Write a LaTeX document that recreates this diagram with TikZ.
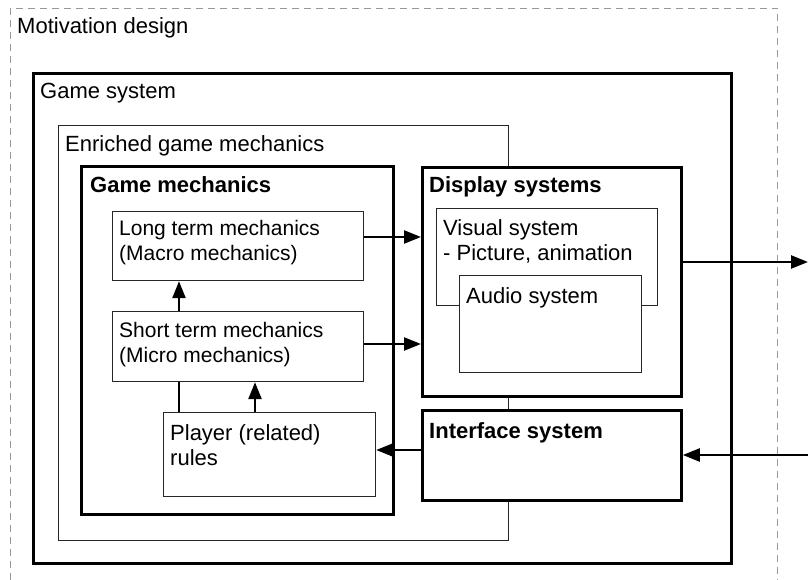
\documentclass[tikz,border=0pt]{standalone}
\usepackage{fontspec}
\setmainfont{Liberation Sans}
\usetikzlibrary{arrows.meta,calc}
\tikzset{
  px/.style={x=1pt,y=-1pt},
  thinbox/.style={draw=black!85,line width=1.2pt,fill=white,inner sep=0pt,anchor=north west},
  thickbox/.style={draw=black,line width=2.8pt,fill=white,inner sep=0pt,anchor=north west},
  lbl/.style={anchor=base west,inner sep=0pt,font=\fontsize{22}{26}\selectfont},
  slbl/.style={anchor=base west,inner sep=0pt,font=\fontsize{21}{25}\selectfont},
  blbl/.style={anchor=base west,inner sep=0pt,font=\fontsize{22}{26}\selectfont\bfseries},
  arr/.style={line width=2.4pt,-{Triangle[length=17pt,width=13pt]}},
  conn/.style={line width=2.4pt},
}
\begin{document}
\begin{tikzpicture}[px]
\useasboundingbox (0,0) rectangle (808,580);
% outer dashed frame
\node[draw=black!40,line width=1pt,dash pattern=on 7pt off 5pt,inner sep=0pt,anchor=north west,minimum width=767pt,minimum height=590pt] (md) at (10,8) {};
\node[lbl] (mdt) at (17,34) {Motivation design};
% game system
\node[thickbox,line width=3.2pt,minimum width=698pt,minimum height=490pt] (gs) at (32,72) {};
\node[lbl] (gst) at (40,99) {Game system};
% enriched
\node[thinbox,minimum width=450pt,minimum height=415pt] (eg) at (58,125) {};
\node[lbl] (egt) at (65,152) {Enriched game mechanics};
% game mechanics
\node[thickbox,minimum width=312pt,minimum height=348pt] (gm) at (80,165) {};
\node[blbl] (gmt) at (90,193) {Game mechanics};
% display systems
\node[thickbox,minimum width=259pt,minimum height=229pt] (ds) at (421,166) {};
\node[blbl] (dst) at (429,193) {Display systems};
% interface
\node[thickbox,minimum width=259pt,minimum height=90pt] (is) at (421,409) {};
\node[blbl] (ist) at (429,438) {Interface system};
% visual / audio
\node[thinbox,minimum width=221pt,minimum height=97pt] (vs) at (436,208) {};
\node[lbl] (vst1) at (443,235) {Visual system};
\node[lbl] (vst2) at (443,260) {- Picture, animation};
\node[thinbox,minimum width=182pt,minimum height=97pt] (as) at (459,275) {};
\node[lbl] (ast) at (466,303) {Audio system};
% mechanics boxes
\node[thinbox,minimum width=251pt,minimum height=69pt] (lt) at (112,211) {};
\node[slbl] (ltt1) at (119,235) {Long term mechanics};
\node[slbl] (ltt2) at (119,260) {(Macro mechanics)};
\node[thinbox,minimum width=251pt,minimum height=70pt] (st) at (112,311) {};
\node[slbl] (stt1) at (119,337) {Short term mechanics};
\node[slbl] (stt2) at (119,362) {(Micro mechanics)};
\node[thinbox,minimum width=212pt,minimum height=84pt] (pr) at (163,412) {};
\node[lbl] (prt1) at (170,440) {Player (related)};
\node[lbl] (prt2) at (170,465) {rules};
% connectors
\coordinate (outR) at (808,262);
\coordinate (inR) at (808,455);
\draw[arr] (lt.east |- 0,237) -- (ds.west |- 0,237);
\draw[arr] (st.east |- 0,344) -- (ds.west |- 0,344);
\draw[arr] (st.north -| 179,0) -- (lt.south -| 179,0);
\draw[conn] (pr.north -| 179,0) -- (st.south -| 179,0);
\draw[arr] (pr.north -| 255,0) -- (st.south -| 255,0);
\draw[arr] (is.west |- 0,450) -- (pr.east |- 0,450);
\draw[arr] (ds.east |- outR) -- (outR);
\draw[arr] (inR) -- (is.east |- inR);
\end{tikzpicture}
\end{document}
